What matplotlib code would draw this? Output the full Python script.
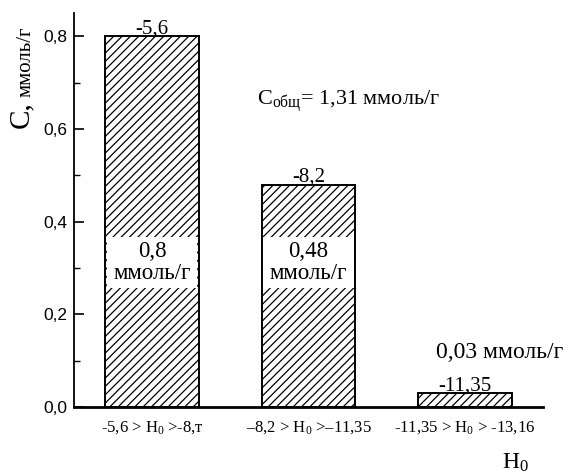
import matplotlib
matplotlib.use("Agg")
import matplotlib.pyplot as plt
from matplotlib.patches import Rectangle
from matplotlib.ticker import MultipleLocator, FixedLocator, FixedFormatter

plt.rcParams["font.family"] = ["Liberation Serif", "DejaVu Serif"]
plt.rcParams["mathtext.fontset"] = "custom"
plt.rcParams["mathtext.rm"] = "Liberation Serif"
plt.rcParams["mathtext.it"] = "Liberation Serif:italic"
plt.rcParams["hatch.linewidth"] = 0.9

# acidity ranges and acid site concentrations
ranges = ["-5,6 > H$_0$ >-8,т", "–8,2 > H$_0$ >–11,35", "-11,35 > H$_0$ > -13,16"]
values = [0.80, 0.48, 0.03]
top_labels = ["-5,6", "-8,2", "-11,35"]
value_labels = ["0,8", "0,48", "0,03"]
total = "1,31"
yticks = [0.0, 0.2, 0.4, 0.6, 0.8]
yticklabels = ["0,0", "0,2", "0,4", "0,6", "0,8"]

fig = plt.figure(figsize=(5.69, 4.74), dpi=100)
ax = fig.add_axes([74 / 569, 67 / 474, 469 / 569, 394 / 474])

pos = [1, 2, 3]
width = 0.6
ax.bar(pos, values, width=width, facecolor="white", edgecolor="black",
       linewidth=1.4, hatch="////", zorder=2)

ax.set_xlim(0.5, 3.5)
ax.set_ylim(0, 0.85)

for s in ("top", "right"):
    ax.spines[s].set_visible(False)
ax.spines["left"].set_linewidth(1.3)
ax.spines["bottom"].set_linewidth(2.0)
ax.spines["bottom"].set_zorder(3)

ax.yaxis.set_major_locator(FixedLocator(yticks))
ax.yaxis.set_major_formatter(FixedFormatter(yticklabels))
ax.yaxis.set_minor_locator(MultipleLocator(0.1))
ax.tick_params(axis="y", which="major", direction="in", length=7, width=1.2,
               pad=5, labelsize=12.5)
ax.tick_params(axis="y", which="minor", direction="in", length=4, width=1.0)
for t in ax.get_yticklabels():
    t.set_family(["Liberation Sans", "DejaVu Sans"])

ax.set_xticks(pos)
ax.set_xticklabels(ranges, fontsize=12)
ax.tick_params(axis="x", length=0, pad=9)

# values above the bars
for x, v, lab in zip(pos, values, top_labels):
    ax.annotate(lab, (x, v), xytext=(0, 2), textcoords="offset points",
                ha="center", va="baseline", fontsize=15)

# boxed concentration labels inside the two tall bars
for x, lab in zip(pos[:2], value_labels[:2]):
    ax.add_patch(Rectangle((x - width / 2 + 0.012, 0.257), width - 0.024, 0.11,
                           facecolor="white", edgecolor="none", zorder=3))
    ax.text(x, 0.312, lab + "\nммоль/г", ha="center", va="center",
            fontsize=16.5, linespacing=1.1, zorder=4)

ax.text(3.22, 0.118, value_labels[2] + " ммоль/г", ha="center", va="center",
        fontsize=17)

ax.text(1.67, 0.651, r"C$_{\mathrm{общ}}$= " + total + " ммоль/г",
        ha="left", va="baseline", fontsize=16)

# axis titles
fig.text(21 / 569, 1 - 128 / 474, "C,", rotation=90, ha="center", va="bottom",
         fontsize=21)
fig.text(26 / 569, 1 - 97 / 474, "ммоль/г", rotation=90, ha="center",
         va="bottom", fontsize=15)
fig.text(502 / 569, 1 - 469 / 474, "H$_0$", ha="left", va="baseline",
         fontsize=17)

fig.savefig("out.png", dpi=100)
